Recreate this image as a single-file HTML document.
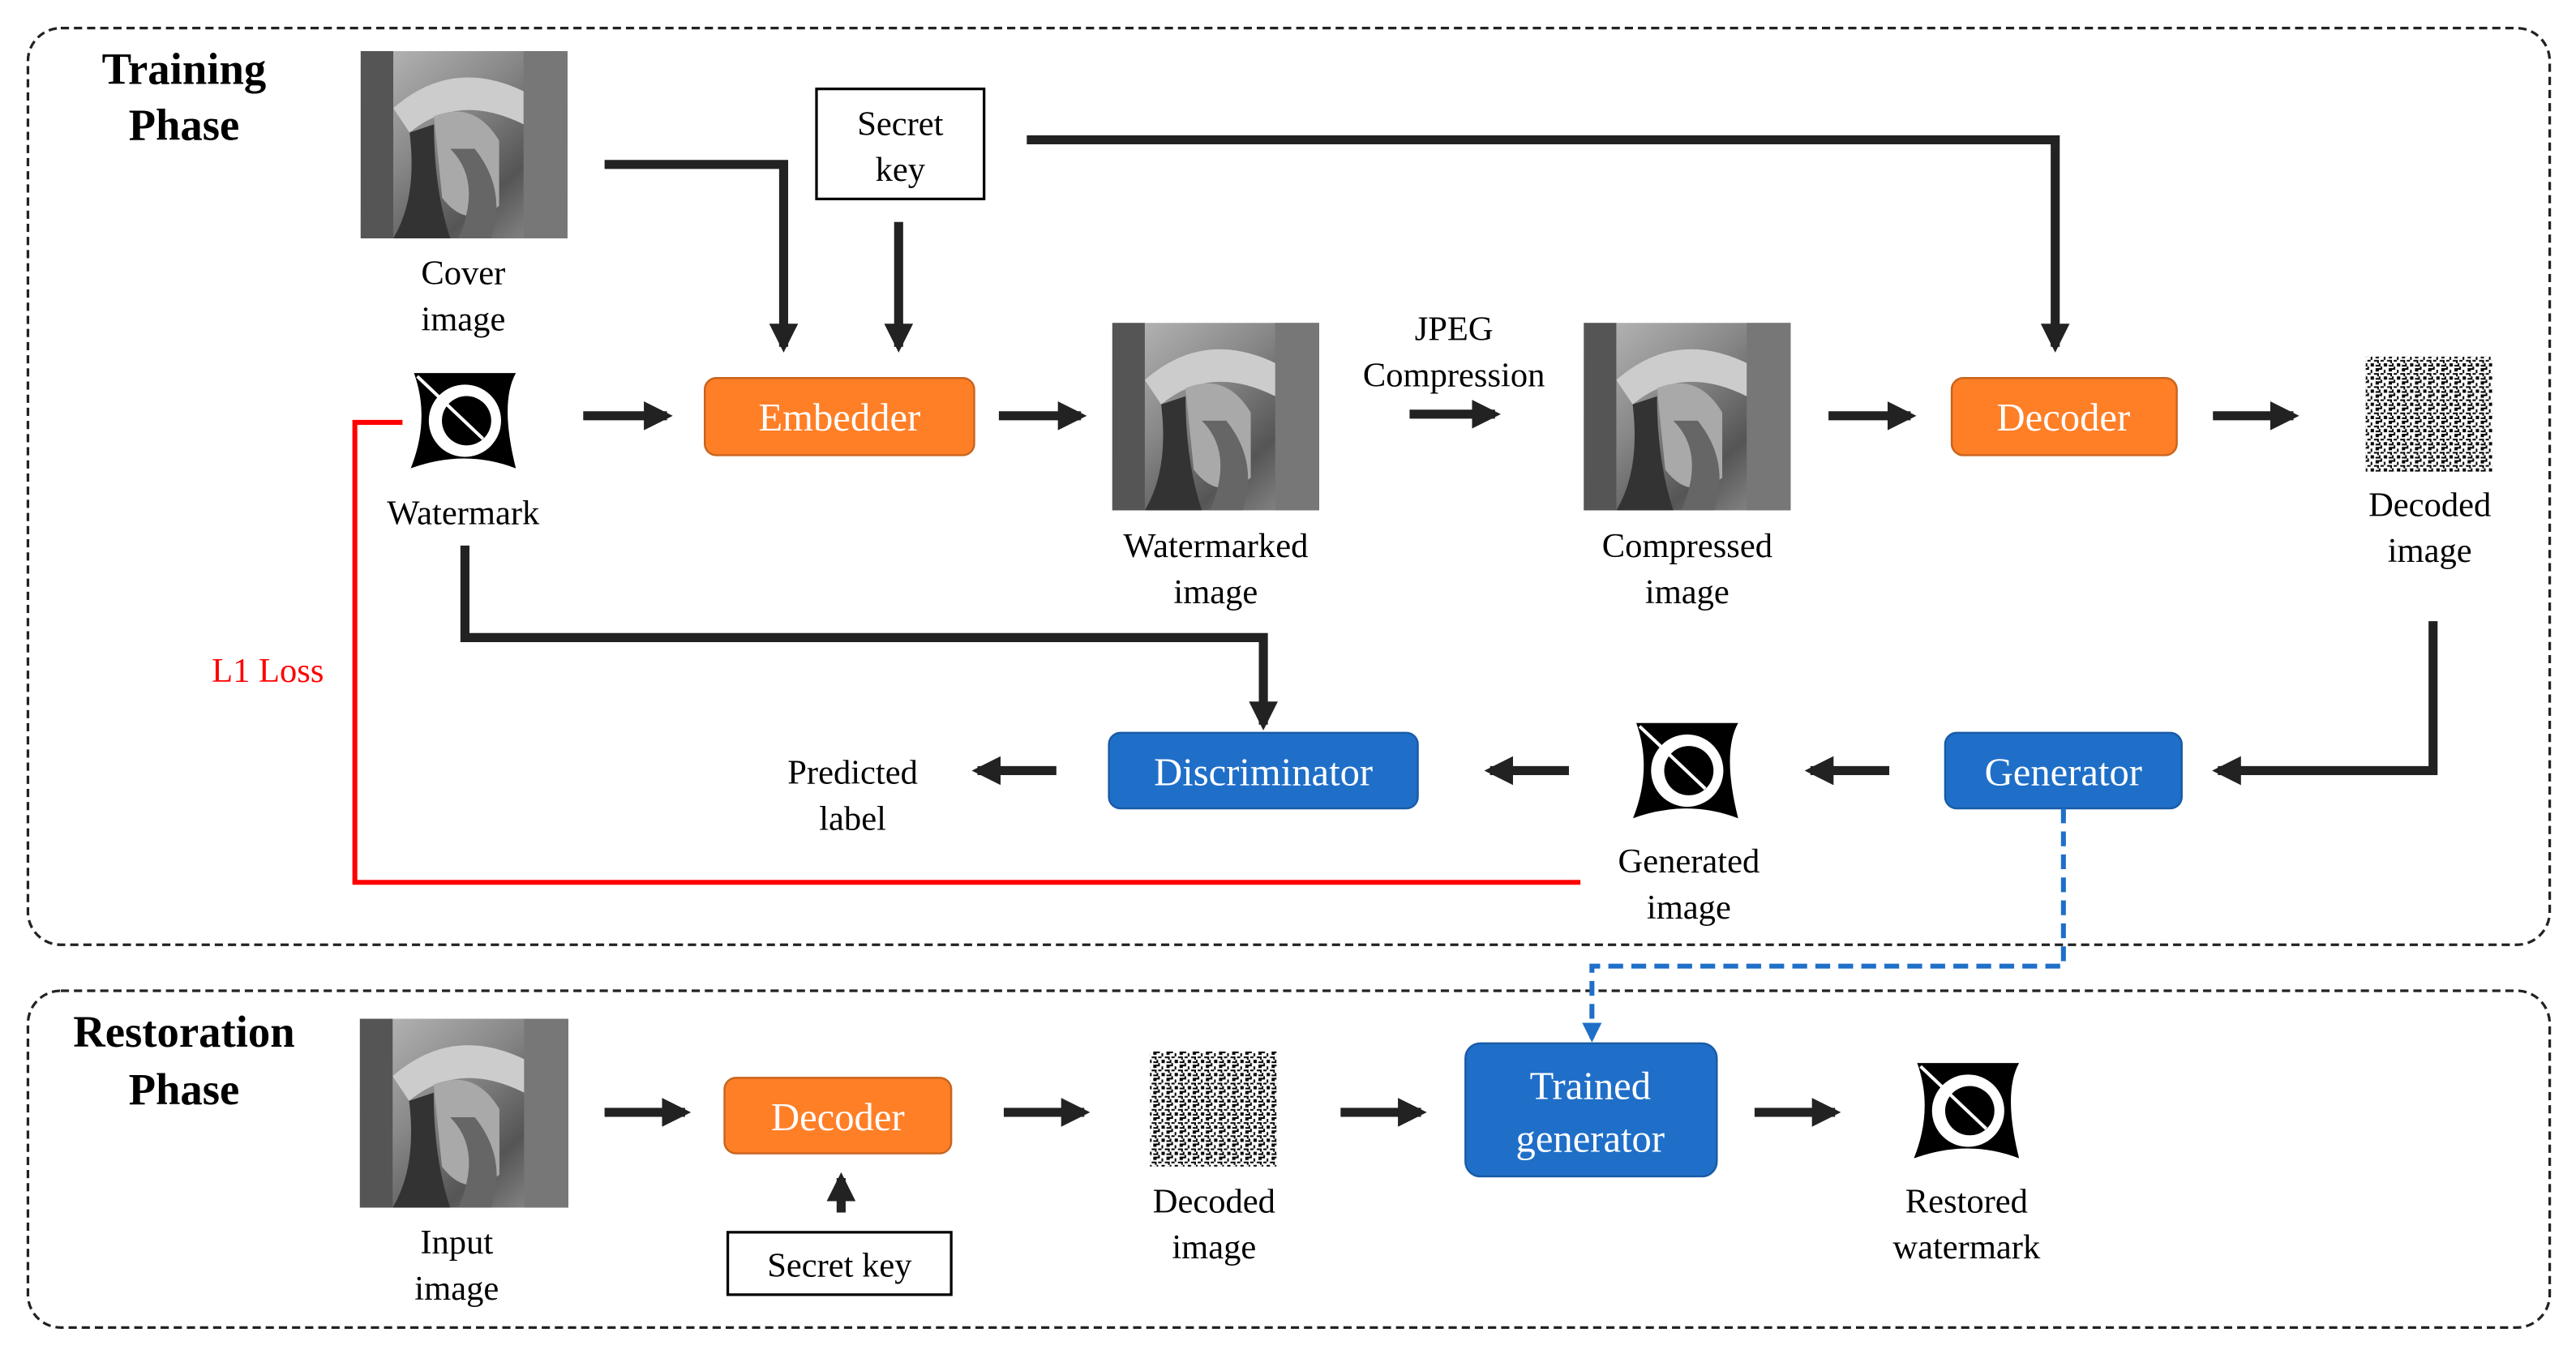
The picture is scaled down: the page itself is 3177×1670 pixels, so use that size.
<!DOCTYPE html>
<html><head><meta charset="utf-8"><style>
html,body{margin:0;padding:0;background:#fff;}
svg{display:block;font-family:"Liberation Serif","Times New Roman",serif;}
svg text{font-family:"Liberation Serif","Times New Roman",serif;}
</style></head><body>
<svg width="3177" height="1670" viewBox="0 0 1568 824" xmlns="http://www.w3.org/2000/svg" font-family="Liberation Serif, serif">
<defs>
<marker id="ab" viewBox="0 0 10 10" refX="8" refY="5" markerWidth="3.2" markerHeight="3.2" orient="auto" markerUnits="strokeWidth"><path d="M0,0 L10,5 L0,10 z" fill="#222"/></marker>
<marker id="abl" viewBox="0 0 10 10" refX="8" refY="5" markerWidth="4" markerHeight="4" orient="auto" markerUnits="strokeWidth"><path d="M0,0 L10,5 L0,10 z" fill="#1f6fc8"/></marker>
<linearGradient id="lg" x1="0" y1="0" x2="1" y2="1">
<stop offset="0" stop-color="#bbb"/><stop offset="0.4" stop-color="#888"/><stop offset="0.7" stop-color="#555"/><stop offset="1" stop-color="#999"/></linearGradient>
<symbol id="lena" viewBox="0 0 127 115">
<rect width="127" height="115" fill="url(#lg)"/>
<rect x="0" y="0" width="20" height="115" fill="#555"/>
<path d="M20,35 Q60,0 110,30 L100,45 Q60,25 30,50z" fill="#ccc"/>
<path d="M45,40 Q70,30 85,55 L85,95 Q65,110 50,90z" fill="#a9a9a9"/>
<path d="M30,50 Q35,90 20,115 L55,115 Q45,85 45,45z" fill="#333"/>
<path d="M55,60 Q75,80 60,115 L80,115 Q90,85 70,60z" fill="#666"/>
<rect x="100" y="0" width="27" height="115" fill="#777"/>
</symbol>
<pattern id="nz" width="8" height="8" patternUnits="userSpaceOnUse">
<rect width="8" height="8" fill="#fff"/>
<rect x="0" y="0" width="2" height="1" fill="#000"/><rect x="3" y="1" width="1" height="2" fill="#000"/><rect x="6" y="0" width="2" height="2" fill="#000"/>
<rect x="1" y="3" width="2" height="1" fill="#000"/><rect x="5" y="3" width="2" height="1" fill="#000"/><rect x="0" y="5" width="1" height="2" fill="#000"/>
<rect x="3" y="5" width="2" height="2" fill="#000"/><rect x="6" y="6" width="2" height="1" fill="#000"/><rect x="1" y="7" width="1" height="1" fill="#000"/><rect x="7" y="3" width="1" height="2" fill="#000"/>
</pattern>
<symbol id="wm" viewBox="0 0 70 62">
<path d="M4,2 L66,2 Q56,20 66,60 Q35,48 2,60 Q14,30 4,2z" fill="#000"/>
<circle cx="35" cy="31" r="22" fill="#fff"/>
<circle cx="36" cy="31" r="15" fill="#000"/>
<line x1="6" y1="4" x2="46" y2="42" stroke="#fff" stroke-width="2"/>
</symbol>
</defs>

<rect x="17" y="17" width="1535" height="558" rx="20" fill="none" stroke="#222" stroke-width="1.6" stroke-dasharray="5,3"/>
<rect x="17" y="603" width="1535" height="205" rx="20" fill="none" stroke="#222" stroke-width="1.6" stroke-dasharray="5,3"/>

<g font-weight="bold" font-size="27" text-anchor="middle" fill="#000">
<text x="112" y="51">Training</text><text x="112" y="85">Phase</text>
<text x="112" y="637">Restoration</text><text x="112" y="672">Phase</text>
</g>

<use href="#lena" x="219" y="31" width="127" height="114"/>
<use href="#lena" x="677" y="196" width="126" height="115"/>
<use href="#lena" x="964" y="196" width="126" height="115"/>
<use href="#lena" x="219" y="620" width="127" height="115"/>
<rect x="1440" y="217" width="77" height="70" fill="url(#nz)"/>
<rect x="700" y="640" width="77" height="70" fill="url(#nz)"/>
<use href="#wm" x="248" y="225" width="70" height="62"/>
<use href="#wm" x="992" y="438" width="70" height="62"/>
<use href="#wm" x="1163" y="645" width="70" height="62"/>

<rect x="497" y="54" width="102" height="67" fill="#fff" stroke="#000" stroke-width="1.6"/>
<rect x="443" y="750" width="136" height="38" fill="#fff" stroke="#000" stroke-width="1.6"/>

<g fill="#ff7f27" stroke="#c8641e" stroke-width="1.2">
<rect x="429" y="230" width="164" height="47" rx="7"/>
<rect x="1188" y="230" width="137" height="47" rx="7"/>
<rect x="441" y="656" width="138" height="46" rx="7"/>
</g>
<g fill="#1f6fc8" stroke="#185ba6" stroke-width="1.2">
<rect x="675" y="446" width="188" height="46" rx="7"/>
<rect x="1184" y="446" width="144" height="46" rx="7"/>
<rect x="892" y="635" width="153" height="81" rx="9"/>
</g>
<g fill="#fff" font-size="24" text-anchor="middle">
<text x="511" y="262">Embedder</text>
<text x="1256" y="262">Decoder</text>
<text x="510" y="688">Decoder</text>
<text x="769" y="478">Discriminator</text>
<text x="1256" y="478">Generator</text>
<text x="968" y="669">Trained</text><text x="968" y="701">generator</text>
</g>

<g fill="#000" font-size="21" text-anchor="middle">
<text x="282" y="173">Cover</text><text x="282" y="201">image</text>
<text x="548" y="82">Secret</text><text x="548" y="110">key</text>
<text x="282" y="319">Watermark</text>
<text x="740" y="339">Watermarked</text><text x="740" y="367">image</text>
<text x="885" y="207">JPEG</text><text x="885" y="235">Compression</text>
<text x="1027" y="339">Compressed</text><text x="1027" y="367">image</text>
<text x="1479" y="314">Decoded</text><text x="1479" y="342">image</text>
<text x="519" y="477">Predicted</text><text x="519" y="505">label</text>
<text x="1028" y="531">Generated</text><text x="1028" y="559">image</text>
<text x="278" y="763">Input</text><text x="278" y="791">image</text>
<text x="511" y="777">Secret key</text>
<text x="739" y="738">Decoded</text><text x="739" y="766">image</text>
<text x="1197" y="738">Restored</text><text x="1197" y="766">watermark</text>
</g>
<text x="163" y="415" fill="#ff0000" font-size="21" text-anchor="middle">L1 Loss</text>

<g stroke="#222" stroke-width="5.5" fill="none" marker-end="url(#ab)">
<line x1="355" y1="253" x2="406" y2="253"/>
<line x1="608" y1="253" x2="658" y2="253"/>
<line x1="858" y1="252" x2="910" y2="252"/>
<line x1="1113" y1="253" x2="1163" y2="253"/>
<line x1="1347" y1="253" x2="1396" y2="253"/>
<polyline points="368,100 477,100 477,211"/>
<line x1="547" y1="135" x2="547" y2="211"/>
<polyline points="625,85 1251,85 1251,211"/>
<polyline points="283,332 283,388 769,388 769,441"/>
<polyline points="1481,378 1481,469 1350,469"/>
<line x1="1150" y1="469" x2="1102" y2="469"/>
<line x1="955" y1="469" x2="907" y2="469"/>
<line x1="643" y1="469" x2="595" y2="469"/>
<line x1="368" y1="677" x2="417" y2="677"/>
<line x1="611" y1="677" x2="660" y2="677"/>
<line x1="816" y1="677" x2="865" y2="677"/>
<line x1="1068" y1="677" x2="1117" y2="677"/>
<line x1="512" y1="738" x2="512" y2="717"/>
</g>
<polyline points="245,257 216,257 216,537 962,537" fill="none" stroke="#ff0000" stroke-width="3"/>
<polyline points="1256,492 1256,588 969,588 969,632" fill="none" stroke="#1f6fc8" stroke-width="3" stroke-dasharray="9,5" marker-end="url(#abl)"/>
</svg>
</body></html>
